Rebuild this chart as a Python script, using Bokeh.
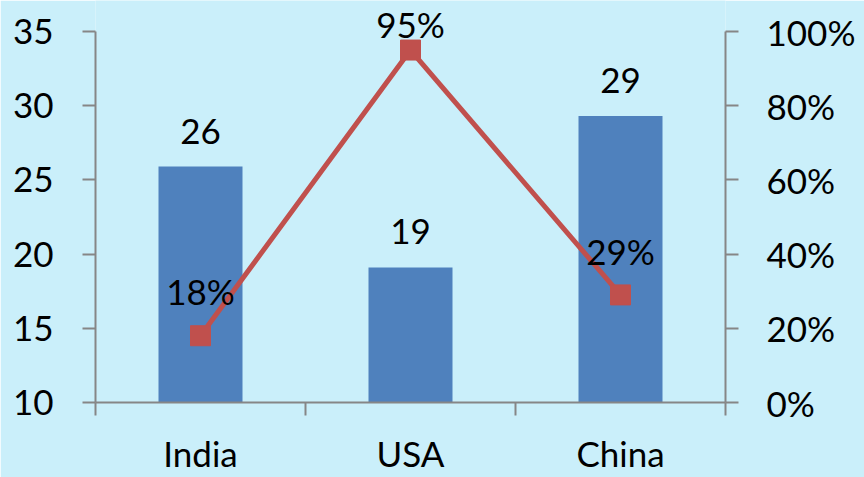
from bokeh.plotting import figure
from bokeh.models import (ColumnDataSource, Range1d, LinearAxis, FixedTicker,
                          NumeralTickFormatter, LabelSet)
from bokeh.core.properties import value
from bokeh.embed import file_html
from bokeh.resources import INLINE

# ---- data ----
categories = ["India", "USA", "China"]
bar_values = [25.9, 19.1, 29.3]
pct_values = [0.18, 0.95, 0.29]
left_ticks = [10, 15, 20, 25, 30, 35]
right_ticks = [0, 0.2, 0.4, 0.6, 0.8, 1.0]
pct_label_offsets = [31, 12, 30]

BG = "#caeffa"
BAR = "#4f81bd"
LINE = "#c0504d"
AXIS = "#868686"
FONT = "Lato"
FS = "35px"

W, H = 864, 477
AX_TOP, AX_BOTTOM = 31, 402          # pixel rows of the axis extremes
TOP_PAD = AX_TOP                      # frame extended upward so labels are not clipped
ext = TOP_PAD / (AX_BOTTOM - AX_TOP)  # extra range fraction above the axis top

lo, hi = left_ticks[0], left_ticks[-1]
rlo, rhi = right_ticks[0], right_ticks[-1]

xs = [i + 0.5 for i in range(len(categories))]

p = figure(width=W, height=H, output_backend="svg", toolbar_location=None,
           x_range=Range1d(0, len(categories)),
           y_range=Range1d(lo, hi + (hi - lo) * ext),
           min_border_left=95, min_border_right=W - 725, min_border_top=0,
           min_border_bottom=H - AX_BOTTOM)
p.background_fill_color = BG
p.border_fill_color = BG
p.outline_line_color = None
p.grid.visible = False
p.extra_y_ranges = {"pct": Range1d(rlo, rhi + (rhi - rlo) * ext)}

# x axis: boundary ticks as minor ticks, labels at centers
p.xaxis.ticker = FixedTicker(ticks=xs, minor_ticks=[0, 1, 2, 3])
p.xaxis.major_label_overrides = {x: c for x, c in zip(xs, categories)}
p.xaxis.major_tick_out = 0
p.xaxis.major_tick_in = 0
p.xaxis.minor_tick_out = 13
p.xaxis.minor_tick_in = 0
p.xaxis.minor_tick_line_color = AXIS
p.xaxis.minor_tick_line_width = 2
p.xaxis.axis_line_color = AXIS
p.xaxis.axis_line_width = 2
p.xaxis.major_label_standoff = 16
p.xaxis.major_label_text_font = FONT
p.xaxis.major_label_text_font_size = FS
p.xaxis.major_label_text_color = "black"

# left axis
ya = p.yaxis[0]
ya.bounds = (lo, hi)
ya.ticker = FixedTicker(ticks=left_ticks)
ya.major_tick_out = 13
ya.major_tick_in = 0
ya.minor_tick_out = 0
ya.minor_tick_in = 0
ya.major_tick_line_color = AXIS
ya.major_tick_line_width = 2
ya.axis_line_color = AXIS
ya.axis_line_width = 2
ya.major_label_standoff = 29
ya.major_label_text_font = FONT
ya.major_label_text_font_size = FS
ya.major_label_text_color = "black"

# right axis
ra = LinearAxis(y_range_name="pct", ticker=FixedTicker(ticks=right_ticks),
                formatter=NumeralTickFormatter(format="0%"), bounds=(rlo, rhi))
ra.major_tick_out = 13
ra.major_tick_in = 0
ra.minor_tick_out = 0
ra.minor_tick_in = 0
ra.major_tick_line_color = AXIS
ra.major_tick_line_width = 2
ra.axis_line_color = AXIS
ra.axis_line_width = 2
ra.major_label_standoff = 28
ra.major_label_text_font = FONT
ra.major_label_text_font_size = FS
ra.major_label_text_color = "black"
p.add_layout(ra, "right")

src = ColumnDataSource(dict(
    x=xs, cat=categories, v=bar_values,
    blab=[f"{v:.0f}" for v in bar_values],
    pct=pct_values, plab=[f"{round(v * 100)}%" for v in pct_values],
    poff=pct_label_offsets,
))

p.vbar(x="x", top="v", bottom=lo, width=0.4, source=src, fill_color=BAR,
       line_color=None)
p.line(x="x", y="pct", source=src, y_range_name="pct", line_color=LINE,
       line_width=5)
p.scatter(x="x", y="pct", source=src, y_range_name="pct", marker="square",
          size=20, fill_color=LINE, line_color=LINE)

blabels = LabelSet(x="x", y="v", text="blab", source=src, text_align="center",
                   text_baseline="alphabetic", y_offset=23,
                   text_font=value(FONT), text_font_size=value(FS),
                   text_color="black")
plabels = LabelSet(x="x", y="pct", text="plab", source=src, y_range_name="pct",
                   text_align="center", text_baseline="alphabetic",
                   y_offset="poff", text_font=value(FONT),
                   text_font_size=value(FS), text_color="black")
p.add_layout(blabels)
p.add_layout(plabels)

html = file_html(p, INLINE)
open("out.html", "w").write(html)
